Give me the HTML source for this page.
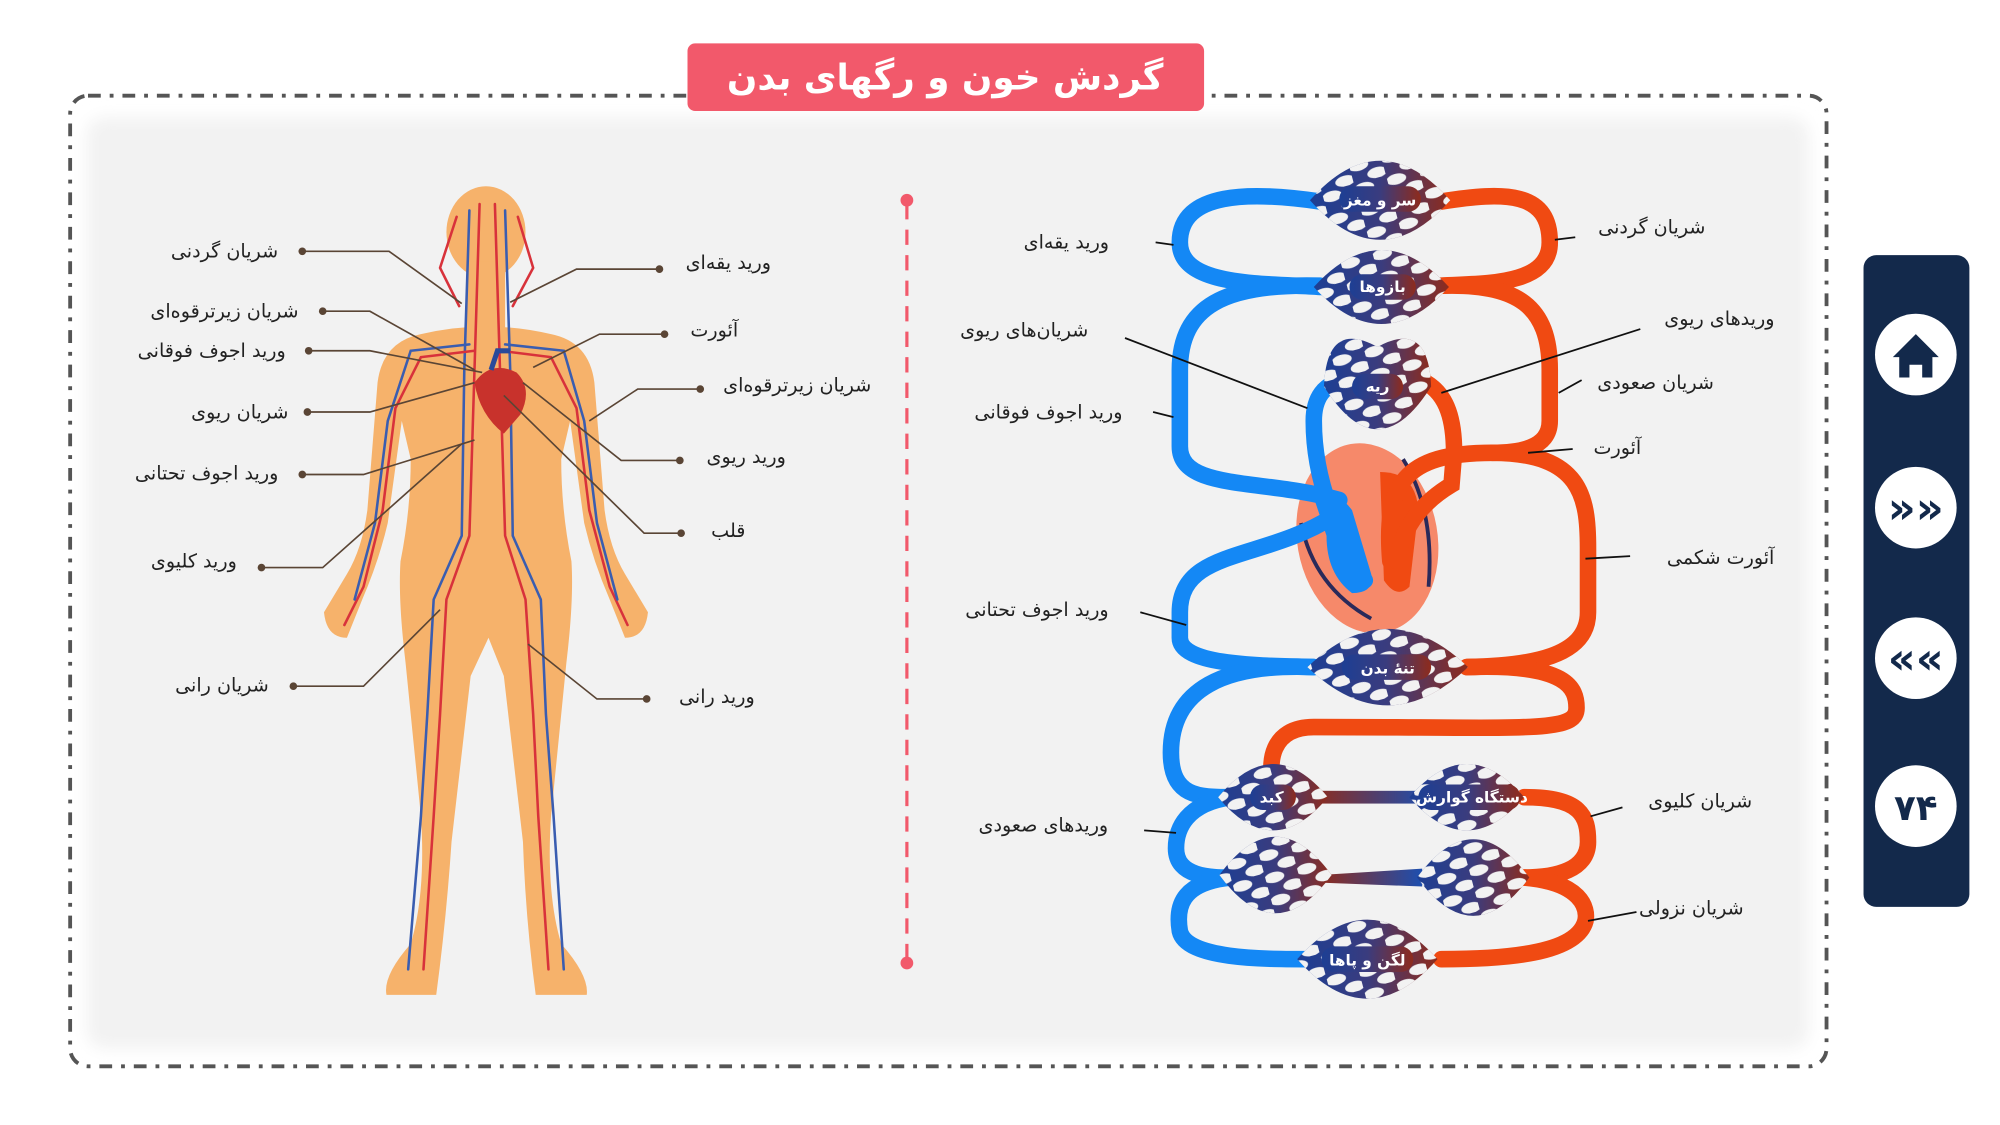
<!DOCTYPE html>
<html><head><meta charset="utf-8">
<style>
html,body{margin:0;padding:0;background:#fff;}
svg{display:block;}
text{font-family:"DejaVu Sans","Liberation Sans",sans-serif;}
</style></head><body>
<svg width="2000" height="1125" viewBox="0 0 1568 882" xmlns="http://www.w3.org/2000/svg">
<defs>
<linearGradient id="bed" x1="0" x2="1" y1="0" y2="0">
<stop offset="0" stop-color="#1d3f94"/><stop offset="0.5" stop-color="#3a3c7e"/><stop offset="1" stop-color="#8e2b1c"/>
</linearGradient>
<linearGradient id="bar" x1="0" x2="1"><stop offset="0" stop-color="#8e2b1c"/><stop offset="1" stop-color="#1d4fb0"/></linearGradient>
<pattern id="holes" width="26" height="18" patternUnits="userSpaceOnUse" patternTransform="rotate(-15)">
<ellipse cx="7" cy="5" rx="8" ry="4.2" fill="#f2f2f2"/>
<ellipse cx="20" cy="14" rx="8" ry="4.2" fill="#f2f2f2"/>
</pattern>
<filter id="soft" x="-5%" y="-5%" width="110%" height="110%"><feGaussianBlur stdDeviation="6"/></filter>
</defs>
<rect width="1568" height="882" fill="#fff"/>
<rect x="68" y="92" width="1350" height="730" rx="14" fill="#f2f2f2" filter="url(#soft)"/>
<rect x="55" y="75" width="1377" height="761" rx="14" fill="none" stroke="#555" stroke-width="3" stroke-dasharray="10 7 3 7"/>
<rect x="539" y="34" width="405" height="53" rx="6" fill="#f2596b"/>
<text x="741" y="70" text-anchor="middle" font-size="28" font-weight="bold" fill="#fff">گردش خون و رگهای بدن</text>
<rect x="1461" y="200" width="83" height="511" rx="10" fill="#13294b"/>
<g fill="#fff"><circle cx="1502" cy="278" r="32"/><circle cx="1502" cy="398" r="32"/><circle cx="1502" cy="516" r="32"/><circle cx="1502" cy="632" r="32"/></g>
<path d="M1484 280 L1502 262 L1520 280 L1515 280 L1515 296 L1507 296 L1507 286 L1497 286 L1497 296 L1489 296 L1489 280 Z" fill="#13294b"/>
<text x="1502" y="410" text-anchor="middle" font-size="34" font-weight="bold" fill="#13294b">»»</text>
<text x="1502" y="528" text-anchor="middle" font-size="34" font-weight="bold" fill="#13294b">««</text>
<text x="1502" y="643" text-anchor="middle" font-size="28" font-weight="bold" fill="#13294b">۷۴</text>
<line x1="711" y1="160" x2="711" y2="752" stroke="#f2596b" stroke-width="2.5" stroke-dasharray="12 8"/>
<circle cx="711" cy="157" r="5" fill="#f2596b"/><circle cx="711" cy="755" r="5" fill="#f2596b"/>

<g fill="#f6b26b">
<ellipse cx="381" cy="182" rx="31" ry="36"/>
<rect x="366" y="205" width="30" height="55"/>
<path d="M330 262 Q381 250 432 262 Q462 268 466 300 L474 400 Q478 430 490 450 L508 480 Q506 500 490 500 L478 470 Q465 440 458 410 L447 330 L440 360 Q440 400 448 440 Q450 470 444 520 L432 640 Q428 700 440 740 Q462 765 460 780 L420 780 Q412 720 410 660 L395 530 L383 500 L369 530 L354 660 Q350 720 342 780 L303 780 Q300 765 322 740 Q334 700 330 640 L318 520 Q312 470 314 440 Q322 400 322 360 L315 330 L304 410 Q297 440 284 470 L272 500 Q256 500 254 480 L272 450 Q284 430 288 400 L296 300 Q300 268 330 262 Z"/>
</g>
<g fill="none" stroke-width="2" stroke-linecap="round">
<path d="M376 160 L372 290 L368 420 L350 470 L345 560 L340 640 L332 760" stroke="#d8323b"/>
<path d="M388 160 L392 290 L396 420 L412 470 L418 560 L422 640 L430 760" stroke="#d8323b"/>
<path d="M368 165 L364 290 L362 420 L340 470 L335 560 L330 640 L320 760" stroke="#3a5db0"/>
<path d="M396 165 L400 290 L402 420 L424 470 L428 560 L434 640 L442 760" stroke="#3a5db0"/>
<path d="M372 275 L330 280 L310 320 L300 400 L285 460 L270 490" stroke="#d8323b"/>
<path d="M392 275 L432 280 L452 320 L462 400 L478 460 L492 490" stroke="#d8323b"/>
<path d="M368 270 L322 275 L304 330 L294 410 L278 470" stroke="#3a5db0"/>
<path d="M396 270 L442 275 L458 330 L468 410 L484 470" stroke="#3a5db0"/>
<path d="M358 170 L345 210 L360 240 M406 170 L418 210 L402 240" stroke="#d8323b"/>
</g>
<path d="M372 300 Q385 282 405 292 Q418 305 408 325 L395 340 Q376 325 372 300 Z" fill="#c8322c"/>
<path d="M385 290 L390 275 L400 275" stroke="#2a4a9a" stroke-width="4" fill="none"/>

<g font-size="15" fill="#222" text-anchor="middle">
<text x="176" y="202">شریان گردنی</text>
<text x="176" y="249">شریان زیرترقوه‌ای</text>
<text x="166" y="280">ورید اجوف فوقانی</text>
<text x="188" y="328">شریان ریوی</text>
<text x="162" y="376">ورید اجوف تحتانی</text>
<text x="152" y="445">ورید کلیوی</text>
<text x="174" y="542">شریان رانی</text>
<text x="571" y="211">ورید یقه‌ای</text>
<text x="560" y="264">آئورت</text>
<text x="625" y="307">شریان زیرترقوه‌ای</text>
<text x="585" y="363">ورید ریوی</text>
<text x="571" y="421">قلب</text>
<text x="562" y="551">ورید رانی</text>
</g>
<g fill="none" stroke="#5a4535" stroke-width="1.3">
<path d="M237 197 H305 L362 238"/><path d="M253 244 H290 L372 290"/><path d="M242 275 H290 L378 292"/>
<path d="M241 323 H290 L372 300"/><path d="M237 372 H285 L372 345"/><path d="M205 445 H253 L362 348"/>
<path d="M230 538 H285 L345 478"/><path d="M517 211 H452 L400 237"/><path d="M521 262 H470 L418 288"/>
<path d="M549 305 H500 L462 330"/><path d="M533 361 H487 L410 300"/><path d="M534 418 H505 L395 310"/>
<path d="M507 548 H468 L414 505"/>
</g>
<g fill="#5a4535">
<circle cx="237" cy="197" r="3"/><circle cx="253" cy="244" r="3"/><circle cx="242" cy="275" r="3"/><circle cx="241" cy="323" r="3"/><circle cx="237" cy="372" r="3"/><circle cx="205" cy="445" r="3"/><circle cx="230" cy="538" r="3"/>
<circle cx="517" cy="211" r="3"/><circle cx="521" cy="262" r="3"/><circle cx="549" cy="305" r="3"/><circle cx="533" cy="361" r="3"/><circle cx="534" cy="418" r="3"/><circle cx="507" cy="548" r="3"/>
</g>

<ellipse cx="1072" cy="422" rx="55" ry="75" transform="rotate(-10 1072 422)" fill="#f6896a"/>
<path d="M1030 390 Q1045 380 1060 400 L1075 450 Q1078 465 1060 465 Q1040 450 1040 420 Z" fill="#1488f5"/>
<path d="M1082 370 Q1110 370 1112 400 L1105 460 Q1095 470 1085 455 Z" fill="#f04a12"/>
<path d="M1020 410 Q1030 460 1075 485 M1100 360 Q1125 400 1120 460" stroke="#2a2a5a" stroke-width="3" fill="none"/>

<g fill="none" stroke-width="13" stroke-linecap="round">
<g stroke="#1488f5">
<path d="M1035 158 C980 150 925 150 925 190 C925 225 990 222 1035 225"/>
<path d="M1035 224 C960 222 925 240 925 290 L925 350 C925 385 990 375 1050 392"/>
<path d="M1045 405 C990 440 925 430 925 480 L925 500 C925 522 990 522 1030 523"/>
<path d="M1030 523 C960 520 918 540 918 590 C918 625 940 625 965 625"/>
<path d="M965 625 C930 630 922 650 922 665 C922 688 950 688 965 688"/>
<path d="M965 688 C925 692 922 712 925 730 C930 752 990 752 1025 752"/>
<path d="M1070 455 C1050 420 1030 380 1030 330 C1030 310 1040 302 1048 300"/>
</g>
<g stroke="#f04a12">
<path d="M1130 158 C1180 150 1215 150 1215 190 C1215 225 1160 222 1130 224"/>
<path d="M1130 224 C1190 222 1215 240 1215 290 L1215 330 C1215 352 1190 355 1170 355"/>
<path d="M1090 440 C1085 380 1100 355 1170 355 C1240 355 1245 390 1245 430 L1245 480 C1245 515 1200 522 1150 523"/>
<path d="M1118 300 C1135 310 1140 330 1140 355 L1138 380 C1118 392 1100 410 1095 440"/>
<path d="M1150 523 C1230 520 1236 540 1236 555 C1236 575 1200 570 1030 570 C995 570 995 600 998 612"/>
<path d="M1195 625 C1240 625 1245 640 1245 660 C1245 682 1220 688 1195 688"/>
<path d="M1195 688 C1240 692 1245 712 1243 722 C1236 748 1180 752 1130 752"/>
</g>
</g>
<rect x="1030" y="620" width="90" height="10" fill="url(#bar)"/>
<path d="M1035 686 L1115 681 L1115 695 L1035 692 Z" fill="url(#bar)"/>

<g>
<path d="M1027 157 Q1082 95 1137 157 Q1082 219 1027 157 Z" fill="url(#bed)"/>
<path d="M1027 157 Q1082 95 1137 157 Q1082 219 1027 157 Z" fill="url(#holes)"/>
<path d="M1030 225 Q1083 167 1136 225 Q1083 283 1030 225 Z" fill="url(#bed)"/>
<path d="M1030 225 Q1083 167 1136 225 Q1083 283 1030 225 Z" fill="url(#holes)"/>
<path d="M1038 303 Q1040 250 1080 272 Q1120 250 1122 303 Q1080 370 1038 303 Z" fill="url(#bed)"/>
<path d="M1038 303 Q1040 250 1080 272 Q1120 250 1122 303 Q1080 370 1038 303 Z" fill="url(#holes)"/>
<path d="M1025 523 Q1088 463 1151 523 Q1088 583 1025 523 Z" fill="url(#bed)"/>
<path d="M1025 523 Q1088 463 1151 523 Q1088 583 1025 523 Z" fill="url(#holes)"/>
<path d="M955 625 Q998 573 1041 625 Q998 677 955 625 Z" fill="url(#bed)"/>
<path d="M955 625 Q998 573 1041 625 Q998 677 955 625 Z" fill="url(#holes)"/>
<path d="M1105 625 Q1150 573 1195 625 Q1150 677 1105 625 Z" fill="url(#bed)"/>
<path d="M1105 625 Q1150 573 1195 625 Q1150 677 1105 625 Z" fill="url(#holes)"/>
<path d="M956 686 Q1000 626 1044 686 Q1000 746 956 686 Z" fill="url(#bed)"/>
<path d="M956 686 Q1000 626 1044 686 Q1000 746 956 686 Z" fill="url(#holes)"/>
<path d="M1111 688 Q1155 628 1199 688 Q1155 748 1111 688 Z" fill="url(#bed)"/>
<path d="M1111 688 Q1155 628 1199 688 Q1155 748 1111 688 Z" fill="url(#holes)"/>
<path d="M1017 752 Q1072 690 1127 752 Q1072 814 1017 752 Z" fill="url(#bed)"/>
<path d="M1017 752 Q1072 690 1127 752 Q1072 814 1017 752 Z" fill="url(#holes)"/>
</g>
<g fill="url(#bed)">
<rect x="1050" y="146" width="64" height="20" rx="10"/><rect x="1058" y="215" width="52" height="20" rx="10"/>
<rect x="1060" y="293" width="40" height="20" rx="10"/><rect x="1052" y="513" width="70" height="20" rx="10"/>
<rect x="980" y="615" width="36" height="20" rx="10"/><rect x="1112" y="615" width="80" height="20" rx="10"/>
<rect x="1036" y="742" width="72" height="20" rx="10"/>
</g>
<g font-size="12" fill="#fff" text-anchor="middle" font-weight="bold">
<text x="1082" y="161">سر و مغز</text><text x="1084" y="229">بازوها</text><text x="1080" y="307">ریه</text>
<text x="1088" y="528">تنهٔ بدن</text><text x="997" y="629">کبد</text><text x="1154" y="629">دستگاه گوارش</text>
<text x="1072" y="757">لگن و پاها</text>
</g>

<g font-size="15" fill="#222" text-anchor="middle">
<text x="836" y="195">ورید یقه‌ای</text><text x="803" y="264">شریان‌های ریوی</text><text x="822" y="328">ورید اجوف فوقانی</text>
<text x="813" y="483">ورید اجوف تحتانی</text><text x="818" y="652">وریدهای صعودی</text>
<text x="1295" y="183">شریان گردنی</text><text x="1348" y="255">وریدهای ریوی</text><text x="1298" y="305">شریان صعودی</text>
<text x="1268" y="356">آئورت</text><text x="1349" y="442">آئورت شکمی</text><text x="1333" y="633">شریان کلیوی</text>
<text x="1326" y="717">شریان نزولی</text>
</g>
<g stroke="#111" stroke-width="1.4" fill="none">
<path d="M906 190 L920 192"/><path d="M882 265 L1025 320"/><path d="M904 323 L920 327"/><path d="M894 480 L930 490"/>
<path d="M897 651 L922 653"/><path d="M1219 188 L1235 186"/><path d="M1286 258 L1130 308"/><path d="M1240 298 L1222 308"/>
<path d="M1233 352 L1198 355"/><path d="M1278 436 L1243 438"/><path d="M1272 633 L1247 640"/><path d="M1283 715 L1245 722"/>
</g>
</svg>
</body></html>
